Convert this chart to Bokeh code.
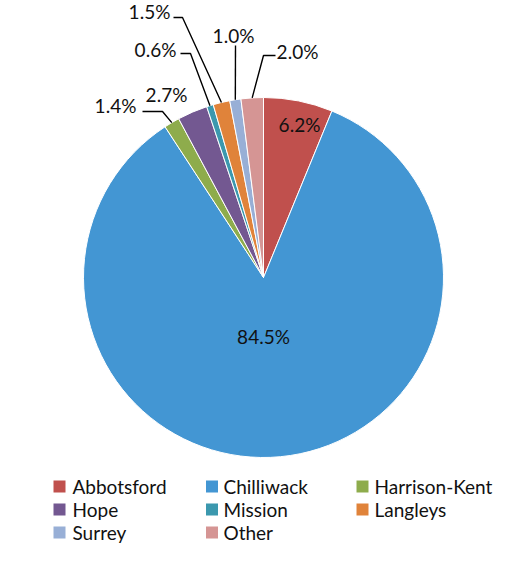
import math
from bokeh.plotting import figure
from bokeh.models import Range1d, ColumnDataSource
from bokeh.core.properties import value
from bokeh.embed import file_html
from bokeh.resources import INLINE

# ---- data ----
categories = ["Abbotsford", "Chilliwack", "Harrison-Kent", "Hope", "Mission", "Langleys", "Surrey", "Other"]
shares = [6.2, 84.5, 1.4, 2.7, 0.6, 1.5, 1.0, 2.0]
labels = ["6.2%", "84.5%", "1.4%", "2.7%", "0.6%", "1.5%", "1.0%", "2.0%"]
colors = ["#C0504D", "#4396D3", "#8EAC4C", "#735891", "#3B98AE", "#E0833A", "#98AFD6", "#D59594"]

# ---- layout (screen pixels, y downward) ----
PW, PH = 496, 548
SHIFT = -7
CX, CY, R = 263, 284 + SHIFT, 180
FONT = "Lato"

def Y(py):
    return PH - py

# label text centres
label_pos = [(299, 131), (263, 343), (115, 112), (166, 101), (155, 56), (149, 18), (233, 42), (297, 58)]
# leader line: (start, elbow) or None
leaders = [None, None, ((142, 118), (162, 118)), None, ((180, 60), (190, 60)),
           ((173, 24), (182, 24)), ((235, 52), (235, 52)), ((275, 62), (263, 62))]

p = figure(width=PW, height=PH, output_backend="svg", toolbar_location=None,
           x_range=Range1d(0, PW), y_range=Range1d(0, PH), min_border=0)
p.axis.visible = False
p.grid.visible = False
p.outline_line_color = None
p.background_fill_color = "white"

total = sum(shares)
starts, ends, mids = [], [], []
cum = 0.0
for s in shares:
    a0 = math.pi / 2 - 2 * math.pi * cum / total
    cum += s
    a1 = math.pi / 2 - 2 * math.pi * cum / total
    starts.append(a0)
    ends.append(a1)
    mids.append((a0 + a1) / 2)

src = ColumnDataSource(dict(start=starts, end=ends, color=colors, cat=categories))
p.wedge(x=CX, y=Y(CY), radius=R, start_angle="start", end_angle="end", direction="clock",
        fill_color="color", line_color="white", line_width=1, source=src)

# leader lines
for i, ld in enumerate(leaders):
    if ld is None:
        continue
    (sx, sy), (ex, ey) = ld
    px = CX + R * math.cos(mids[i])
    py = Y(CY) + R * math.sin(mids[i])
    p.line([sx, ex, px], [Y(sy + SHIFT), Y(ey + SHIFT), py], line_color="black", line_width=1.4)

# labels
p.text(x=[lp[0] for lp in label_pos], y=[Y(lp[1] + SHIFT) for lp in label_pos], text=labels,
       text_font=value(FONT), text_font_size="19px", text_color="#111111",
       text_align="center", text_baseline="middle")

# legend
col_sq = [59, 211.5, 362]
col_tx = [72, 223, 374]
row_y = [486, 509, 532]
lx, ly, tx, ty = [], [], [], []
for i, c in enumerate(categories):
    col, row = i % 3, i // 3
    lx.append(col_sq[col]); ly.append(Y(row_y[row]))
    tx.append(col_tx[col]); ty.append(Y(row_y[row]))
p.rect(x=lx, y=ly, width=12, height=12, fill_color=colors, line_color=None)
p.text(x=tx, y=ty, text=categories, text_font=value(FONT), text_font_size="19px",
       text_color="#111111", text_align="left", text_baseline="middle")

open("out.html", "w").write(file_html(p, INLINE))
